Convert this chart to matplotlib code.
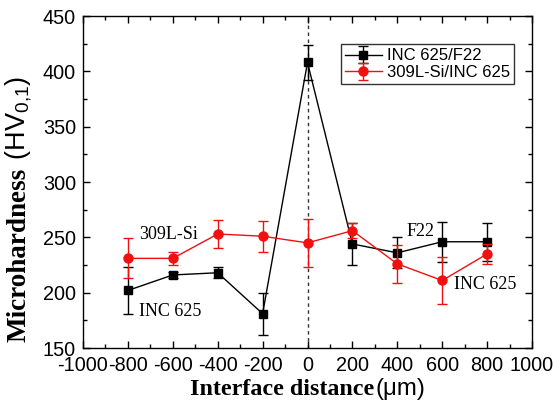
import matplotlib
matplotlib.use("Agg")
import matplotlib.pyplot as plt
from matplotlib.ticker import MultipleLocator

plt.rcParams["axes.unicode_minus"] = False
plt.rcParams["mathtext.fontset"] = "custom"
plt.rcParams["mathtext.rm"] = "Liberation Sans"
plt.rcParams["mathtext.it"] = "Liberation Sans"

x = [-800, -600, -400, -200, 0, 200, 400, 600, 800]
inc_f22 = [202, 216, 218, 181, 408, 244, 236, 246, 246]
inc_f22_err = [21, 3, 5, 19, 16, 19, 14, 18, 17]
sil_inc = [231, 231, 253, 251, 245, 256, 226, 211, 235]
sil_inc_err = [18, 6, 13, 14, 22, 7, 17, 21, 9]
labels = ["INC 625/F22", "309L-Si/INC 625"]

fig = plt.figure(figsize=(5.53, 4.01), dpi=100)
ax = fig.add_axes([83/553, 1-348/401, (532-83)/553, (348-16)/401])

ax.axvline(0, color="#333333", ls=(0, (2.5, 2.5)), lw=1.0, zorder=1)
ax.errorbar(x, inc_f22, yerr=inc_f22_err, color="black", marker="s", ms=6,
            lw=1.0, capsize=3.5, elinewidth=1.0, label=labels[0], zorder=3)
ax.errorbar(x, sil_inc, yerr=sil_inc_err, color="#f01010", marker="o", ms=6.5,
            lw=1.0, capsize=3.5, elinewidth=1.0, label=labels[1], zorder=4)

ax.set_xlim(-1000, 1000)
ax.set_ylim(150, 450)
ax.xaxis.set_major_locator(MultipleLocator(200))
ax.xaxis.set_minor_locator(MultipleLocator(100))
ax.yaxis.set_major_locator(MultipleLocator(50))
ax.yaxis.set_minor_locator(MultipleLocator(25))
ax.tick_params(which="both", direction="in", top=True, right=True,
               labelsize=14.3, width=1.0, colors="black")
ax.tick_params(which="major", length=5)
ax.tick_params(which="minor", length=3)
ax.tick_params(axis="x", which="major", pad=6)
ax.tick_params(axis="y", which="major", pad=5)
for lab in ax.get_xticklabels() + ax.get_yticklabels():
    lab.set_fontfamily("Liberation Sans")
for s in ax.spines.values():
    s.set_linewidth(1.0)

serif = "Liberation Serif"
ax.text(-752, 253, "309L-Si", fontfamily=serif, fontsize=13, ha="left", va="center")
ax.text(-752, 183, "INC 625", fontfamily=serif, fontsize=13, ha="left", va="center")
ax.text(439, 255, "F22", fontfamily=serif, fontsize=13, ha="left", va="center")
ax.text(652, 207, "INC 625", fontfamily=serif, fontsize=13, ha="left", va="center")

leg = ax.legend(loc="upper right", bbox_to_anchor=(0.96, 0.915),
                frameon=True, fancybox=False, edgecolor="black", borderpad=0.25,
                handlelength=2.2, handletextpad=0.3, labelspacing=0.1,
                borderaxespad=0.0,
                prop={"family": "Liberation Sans", "size": 12})
leg.get_frame().set_linewidth(1.0)

# x label: bold serif + regular sans
fig.canvas.draw()
r = fig.canvas.get_renderer()
fs_x = 17.3
t1 = fig.text(0, 0, "Interface distance", fontfamily=serif, fontweight="bold",
              fontsize=fs_x, ha="left", va="baseline")
t2 = fig.text(0, 0, "(\u03bcm)", fontfamily="Liberation Sans", fontsize=fs_x,
              ha="left", va="baseline")
w1 = t1.get_window_extent(r).width
w2 = t2.get_window_extent(r).width
W = fig.bbox.width
cx = 308 / 553 * W
base = (1 - 395 / 401)
x0 = cx - (w1 + w2 + 1) / 2
t1.set_position((x0 / W, base))
t2.set_position(((x0 + w1 + 1) / W, base))

# y label: bold serif + regular sans with subscript
fs_y = 19.5
u1 = fig.text(0, 0, "Microhardness", fontfamily=serif, fontweight="bold",
              fontsize=fs_y, rotation=90, ha="left", va="baseline",
              rotation_mode="anchor")
u2 = fig.text(0, 0, " (HV$_{\\mathregular{0{,}1}}$)", fontfamily="Liberation Sans",
              fontsize=fs_y, rotation=90, ha="left", va="baseline",
              rotation_mode="anchor")
fig.canvas.draw()
h1 = u1.get_window_extent(r).height
h2 = u2.get_window_extent(r).height
H = fig.bbox.height
cy = (1 - 209 / 401) * H
y0 = cy - (h1 + h2) / 2
bx = 25 / 553
u1.set_position((bx, y0 / H))
u2.set_position((bx, (y0 + h1) / H))

fig.savefig("out.png", dpi=100)
